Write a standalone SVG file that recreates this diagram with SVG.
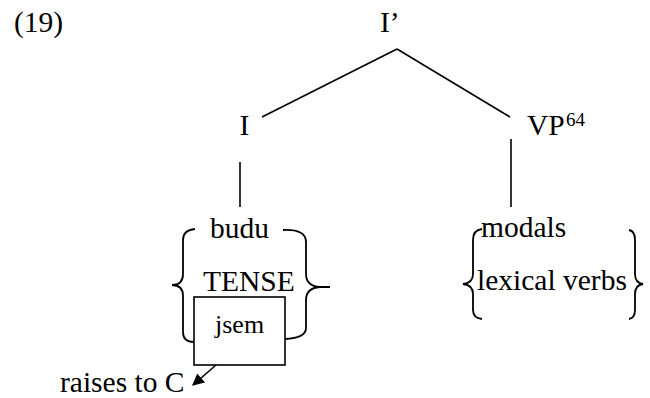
<svg xmlns="http://www.w3.org/2000/svg" width="650" height="398" viewBox="0 0 650 398">
<defs>
<style>
text{font-family:"Liberation Serif","Times New Roman",serif;font-size:29.5px;fill:#000}
.sup{font-size:19px}
.small{font-size:26px}
.ln{stroke:#000;stroke-width:1.6;fill:none}
.br{stroke:#000;stroke-width:1.8;fill:none}
</style>
<marker id="ah" viewBox="0 0 10 10" refX="9" refY="5" markerWidth="14" markerHeight="12" markerUnits="userSpaceOnUse" orient="auto">
<path d="M0,0 L10,5 L0,10 z" fill="#000"/>
</marker>
</defs>
<rect width="650" height="398" fill="#fff"/>
<text x="14" y="32">(19)</text>
<g id="connectors">
<line class="ln" x1="397" y1="49" x2="262" y2="117"/>
<line class="ln" x1="397" y1="49" x2="510" y2="117"/>
<line class="ln" x1="240" y1="162" x2="240" y2="207"/>
<line class="ln" x1="511" y1="139" x2="511" y2="207"/>
<line class="ln" x1="216" y1="365" x2="193" y2="385" marker-end="url(#ah)"/>
</g>
<g id="node-Ibar"><text x="380" y="32">I’</text></g>
<g id="node-I"><text x="239.5" y="135">I</text></g>
<g id="node-VP"><text x="527" y="135">VP</text><text class="sup" x="566" y="126">64</text></g>
<g id="node-I-content">
<text x="210" y="238">budu</text>
<text x="203" y="291">TENSE</text>
<path class="br" d="M195,229 Q183,230 183,240 L183,274 Q183,285 172,285 Q183,285 183,296 L183,332 Q183,342 194,342"/>
<path class="br" d="M283,230 Q306,229 306,242 L306,274 Q306,286 320,287 L330,287 M320,287 Q306,288 306,300 L306,328 Q306,338 285,339"/>
</g>
<g id="node-jsem">
<rect x="194" y="297" width="91" height="68" fill="#fff" stroke="#000" stroke-width="1.6"/>
<text class="small" x="215" y="333">jsem</text>
</g>
<g id="node-raises"><text x="60" y="392">raises to C</text></g>
<g id="node-VP-content">
<text x="481" y="237">modals</text>
<text x="477" y="290">lexical verbs</text>
<path class="br" d="M482,229 Q473,230 473,240 L473,274 Q473,283 463,284 Q473,285 473,294 L473,310 Q473,318 482,319"/>
<path class="br" d="M629,230 Q635,231 635,240 L635,274 Q635,283 643,284 Q635,285 635,294 L635,310 Q635,318 629,319"/>
</g>
</svg>
